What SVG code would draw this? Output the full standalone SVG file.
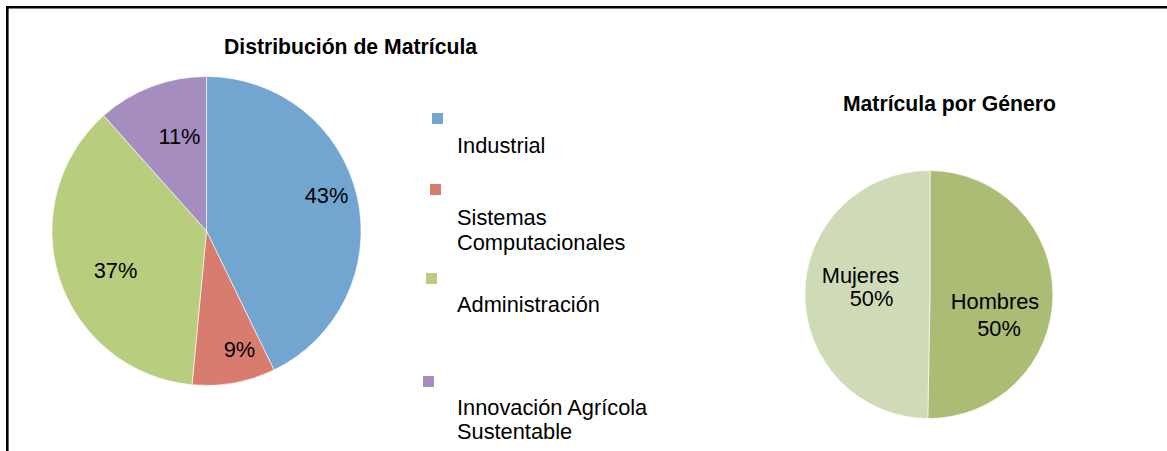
<svg xmlns="http://www.w3.org/2000/svg" width="1167" height="451" viewBox="0 0 1167 451">
<style>
.title{font-family:"Liberation Sans",Arial,sans-serif;font-weight:bold;font-size:21.2px;fill:#000;text-anchor:middle}
.lbl{font-family:"Liberation Sans",Arial,sans-serif;font-size:21.8px;fill:#000;text-anchor:middle}
.leg{font-family:"Liberation Sans",Arial,sans-serif;font-size:21.8px;fill:#000}
.sl{stroke:#fff;stroke-width:0.6}
</style>
<rect width="1167" height="451" fill="#fff"/>
<g id="frame" fill="none" stroke="#000" stroke-width="2.6">
<path d="M7.3,451 V7.3 H1167"/>
</g>
<g id="chart1">
<text class="title" x="350.5" y="54">Distribución de Matrícula</text>
<g id="slice-industrial"><path class="sl" fill="#72A6D1" d="M206.5,231 L206.5,76.5 A154.5,154.5 0 0 1 274.0,370.0 Z"/><text class="lbl" x="326.5" y="203">43%</text></g>
<g id="slice-sistemas"><path class="sl" fill="#D97C70" d="M206.5,231 L274.0,370.0 A154.5,154.5 0 0 1 192.0,384.8 Z"/><text class="lbl" x="239.5" y="357">9%</text></g>
<g id="slice-administracion"><path class="sl" fill="#B9CD7E" d="M206.5,231 L192.0,384.8 A154.5,154.5 0 0 1 103.7,115.6 Z"/><text class="lbl" x="115.5" y="278">37%</text></g>
<g id="slice-innovacion"><path class="sl" fill="#A58DBF" d="M206.5,231 L103.7,115.6 A154.5,154.5 0 0 1 206.5,76.5 Z"/><text class="lbl" x="179.5" y="144">11%</text></g>
</g>
<g id="legend">
<g id="leg-industrial"><rect x="432" y="113" width="11" height="11" fill="#72A6D1"/><text class="leg" x="457" y="153">Industrial</text></g>
<g id="leg-sistemas"><rect x="430" y="184" width="11" height="11" fill="#D97C70"/><text class="leg" x="457" y="225">Sistemas</text><text class="leg" x="457" y="250">Computacionales</text></g>
<g id="leg-administracion"><rect x="426" y="273" width="11" height="11" fill="#B9CD7E"/><text class="leg" x="457" y="311.5">Administración</text></g>
<g id="leg-innovacion"><rect x="423" y="376" width="11" height="11" fill="#A58DBF"/><text class="leg" x="457" y="415">Innovación Agrícola</text><text class="leg" x="457" y="438.5">Sustentable</text></g>
</g>
<g id="chart2">
<text class="title" x="949.5" y="110.5">Matrícula por Género</text>
<g id="slice-hombres"><path class="sl" fill="#ABBC74" d="M930,294.5 L930,170.5 A124,124 0 1 1 927.8,418.5 Z"/><text class="lbl" x="995" y="309">Hombres</text><text class="lbl" x="999" y="336">50%</text></g>
<g id="slice-mujeres"><path class="sl" fill="#CFDBB6" d="M930,294.5 L927.8,418.5 A124,124 0 0 1 930,170.5 Z"/><text class="lbl" x="860.5" y="283">Mujeres</text><text class="lbl" x="871.5" y="306">50%</text></g>
</g>
</svg>
